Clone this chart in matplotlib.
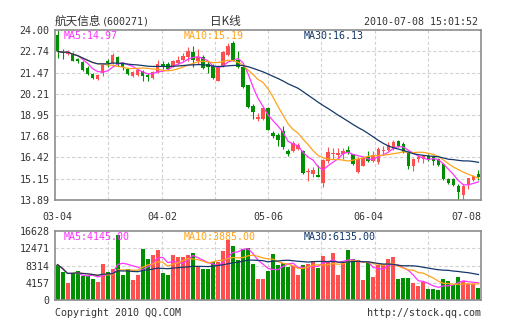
import numpy as np
import pandas as pd
import matplotlib
matplotlib.use('Agg')
import matplotlib.pyplot as plt
import matplotlib.transforms as mtransforms

stock_name = '航天信息'
stock_code = '(600271)'
chart_title = '日K线'
timestamp = '2010-07-08 15:01:52'
date_labels = ['03-04', '04-02', '05-06', '06-04', '07-08']
date_label_pos = [0, 21, 42, 62, 84]
price_ticks = [13.89, 15.15, 16.42, 17.68, 18.95, 20.21, 21.47, 22.74, 24.00]
volume_ticks = [0, 4157, 8314, 12471, 16628]

opens = [
    23.72, 22.73, 22.60, 22.61, 22.28, 22.10, 21.74, 21.38, 21.11, 21.44,
    22.14, 22.04, 22.37, 22.02, 21.66, 21.24, 21.34, 21.54, 21.34, 21.14,
    21.48, 21.98, 21.98, 21.84, 22.04, 22.20, 22.37, 22.69, 22.18, 22.39,
    21.98, 21.88, 20.99, 21.88, 22.53, 23.23, 22.24, 21.78, 20.71, 19.50,
    18.71, 18.73, 19.36, 17.85, 17.74, 17.97, 16.82, 16.82, 16.94, 16.82,
    15.56, 15.46, 15.40, 14.90, 16.23, 16.63, 16.58, 16.64, 16.89, 16.60,
    15.58, 15.94, 16.44, 16.18, 16.14, 16.79, 16.89, 16.99, 17.37, 17.23,
    16.73, 15.90, 16.34, 16.34, 16.48, 16.42, 16.30, 16.05, 15.16, 15.11,
    14.75, 14.20, 14.78, 15.09, 15.44]
highs = [
    24.00, 22.89, 22.81, 22.69, 22.36, 22.18, 21.84, 21.44, 21.38, 22.04,
    22.30, 22.63, 22.43, 22.10, 21.74, 21.58, 21.70, 21.64, 21.44, 21.58,
    22.24, 22.14, 22.10, 22.20, 22.43, 22.63, 22.97, 23.03, 22.89, 22.53,
    22.14, 21.98, 21.90, 22.77, 23.23, 23.33, 22.77, 21.90, 20.75, 19.60,
    19.06, 19.40, 19.40, 17.97, 17.87, 18.27, 16.94, 17.38, 17.28, 16.88,
    15.80, 15.84, 15.99, 16.35, 17.02, 16.97, 16.97, 16.97, 17.09, 16.65,
    16.44, 16.44, 16.83, 16.80, 17.03, 17.12, 17.33, 17.47, 17.47, 17.33,
    16.83, 16.38, 16.58, 16.58, 16.64, 16.56, 16.36, 16.09, 15.22, 15.17,
    14.85, 14.85, 15.22, 15.39, 15.70]
lows = [
    22.35, 22.30, 22.53, 22.14, 22.05, 21.58, 21.34, 21.09, 21.01, 21.28,
    21.78, 21.98, 21.84, 21.64, 21.34, 21.18, 21.24, 20.99, 20.95, 21.10,
    21.42, 21.70, 21.64, 21.78, 21.94, 22.14, 22.14, 21.80, 21.98, 21.68,
    21.44, 21.09, 20.99, 21.78, 22.43, 22.14, 21.74, 20.55, 19.38, 18.72,
    18.57, 18.67, 18.05, 17.58, 17.08, 16.94, 16.49, 16.74, 16.88, 15.46,
    15.00, 15.26, 15.24, 14.64, 16.09, 16.30, 16.34, 16.34, 16.61, 16.00,
    15.51, 15.90, 16.14, 16.14, 16.04, 16.57, 16.83, 16.89, 17.03, 16.69,
    15.75, 15.59, 16.14, 16.10, 16.18, 15.97, 15.91, 15.10, 14.82, 14.71,
    13.89, 13.90, 14.54, 15.03, 15.10]
closes = [
    22.73, 22.61, 22.73, 22.18, 22.14, 21.64, 21.40, 21.14, 21.34, 21.94,
    22.02, 22.53, 22.00, 21.78, 21.40, 21.48, 21.60, 21.28, 21.18, 21.50,
    21.98, 21.80, 21.70, 22.14, 22.24, 22.47, 22.73, 22.24, 22.37, 21.74,
    21.78, 21.14, 21.84, 22.67, 23.07, 22.18, 21.78, 20.61, 19.42, 19.10,
    18.81, 19.36, 18.07, 17.70, 17.48, 17.02, 16.63, 17.28, 17.18, 15.50,
    15.64, 15.70, 15.28, 16.29, 16.74, 16.71, 16.69, 16.83, 16.69, 16.06,
    16.34, 16.38, 16.18, 16.54, 16.93, 16.83, 17.17, 17.33, 17.09, 16.77,
    15.90, 16.30, 16.44, 16.48, 16.34, 16.22, 15.98, 15.16, 14.90, 14.79,
    14.35, 14.75, 15.18, 15.33, 15.24]
volumes = [
    8520, 6670, 4020, 6510, 7000, 5710, 5710, 5070, 4350, 8600,
    6750, 7400, 15590, 5950, 7400, 4830, 5950, 12220, 9810, 10930,
    11970, 6430, 5950, 10930, 10290, 10290, 10930, 11250, 8280, 7400,
    7400, 9160, 9080, 11730, 14460, 12940, 9730, 12220, 12460, 8600,
    4990, 4990, 7070, 11090, 8440, 8840, 7880, 8120, 6030, 8520,
    8680, 9480, 7720, 10530, 9480, 11410, 6090, 9100, 12100, 9780,
    9690, 4810, 9270, 5660, 8500, 8670, 9780, 10300, 4980, 5240,
    5410, 4110, 3350, 4380, 2570, 2600, 2400, 5050, 4550, 3525,
    5450, 4560, 3900, 3900, 2915]

df = pd.DataFrame({'open': opens, 'high': highs, 'low': lows,
                   'close': closes, 'volume': volumes})
ma_periods = [5, 10, 30]
for n in ma_periods:
    df['ma%d' % n] = df['close'].rolling(n, min_periods=1).mean()
    df['vma%d' % n] = df['volume'].rolling(n, min_periods=1).mean()

RED = '#ff4f4f'
GREEN = '#008f00'
MA_COLORS = {5: '#ff33ff', 10: '#ffa31a', 30: '#14386b'}
GRID = '#d2d2d2'
FRAME = '#8c8c8c'
TEXT = '#333333'
MONO = 'DejaVu Sans Mono'
CJK = 'Noto Sans CJK SC'
FS = 7.2

W, H = 505, 330
fig = plt.figure(figsize=(W / 100, H / 100), dpi=100)


def px_box(left, top, right, bottom):
    return [left / W, 1 - bottom / H, (right - left) / W, (bottom - top) / H]


def fx(px):
    return px / W


def fy(py):
    return 1 - py / H


ax = fig.add_axes(px_box(55, 30, 481, 200))
axv = fig.add_axes(px_box(55, 231, 481, 300))

x = np.arange(len(df))
colors = np.where(df['close'] >= df['open'], RED, GREEN)
n_bars = len(df)

for a in (ax, axv):
    a.set_xlim(-0.5, n_bars - 0.5)
    a.set_xticks([])
    for k in range(1, 8):
        a.axvline(-0.5 + n_bars * k / 8, color=GRID, lw=0.8, ls=(0, (3, 2)), zorder=0)
    for s in a.spines.values():
        s.set_color(FRAME)
        s.set_linewidth(1.2)
    a.tick_params(axis='y', length=0, pad=4, labelsize=FS, labelcolor=TEXT)

# price panel: candles + moving averages
ax.set_ylim(price_ticks[0], price_ticks[-1])
for t in price_ticks[1:-1]:
    ax.axhline(t, color=GRID, lw=0.8, ls=(0, (3, 2)), zorder=0)
ax.set_yticks(price_ticks, ['%.2f' % t for t in price_ticks], family=MONO)

ax.vlines(x, df['low'], df['high'], colors=colors, linewidth=0.8, zorder=2)
body_low = np.minimum(df['open'], df['close'])
body_h = np.maximum((df['close'] - df['open']).abs(), 0.06)
ax.bar(x, body_h, bottom=body_low, width=0.7, color=colors, linewidth=0, zorder=3)
for n in ma_periods:
    ax.plot(x, df['ma%d' % n], color=MA_COLORS[n], lw=0.9, zorder=4)

# volume panel
axv.set_ylim(volume_ticks[0], volume_ticks[-1])
for t in volume_ticks[1:-1]:
    axv.axhline(t, color=GRID, lw=0.8, ls=(0, (3, 2)), zorder=0)
axv.set_yticks(volume_ticks, [str(t) for t in volume_ticks], family=MONO)
axv.bar(x, df['volume'], width=0.8, color=colors, linewidth=0, zorder=2)
for n in ma_periods:
    axv.plot(x, df['vma%d' % n], color=MA_COLORS[n], lw=0.9, zorder=4)

# date labels under price panel
trans = mtransforms.blended_transform_factory(ax.transData, ax.transAxes)
for pos, lab in zip(date_label_pos, date_labels):
    if pos == date_label_pos[-1]:
        ax.text(n_bars - 0.5, -0.098, lab, transform=trans, ha='right', va='center',
                family=MONO, size=FS, color=TEXT)
    else:
        ax.text(pos, -0.098, lab, transform=trans, ha='center', va='center',
                family=MONO, size=FS, color=TEXT)

# MA legends
label_x = [64, 184, 304]
for lx, n in zip(label_x, ma_periods):
    fig.text(fx(lx), fy(36), 'MA%d:%.2f' % (n, df['ma%d' % n].iloc[-1]),
             color=MA_COLORS[n], family=MONO, size=FS, ha='left', va='center')
    fig.text(fx(lx), fy(237), 'MA%d:%.2f' % (n, df['vma%d' % n].iloc[-1]),
             color=MA_COLORS[n], family=MONO, size=FS, ha='left', va='center')

# header
fig.text(fx(55), fy(22), stock_name, family=CJK, size=8.4, color=TEXT, ha='left', va='center')
fig.text(fx(102), fy(22), stock_code, family=MONO, size=FS, color=TEXT, ha='left', va='center')
fig.text(fx(225), fy(22), chart_title, family=CJK, size=8.4, color=TEXT, ha='center', va='center')
fig.text(fx(478), fy(22), timestamp, family=MONO, size=FS, color=TEXT, ha='right', va='center')

# footer
fig.text(fx(55), fy(313), 'Copyright 2010 QQ.COM', family=MONO, size=FS, color=TEXT,
         ha='left', va='center')
fig.text(fx(481), fy(313), 'http://stock.qq.com', family=MONO, size=FS, color=TEXT,
         ha='right', va='center')

fig.savefig('out.png', dpi=100)
